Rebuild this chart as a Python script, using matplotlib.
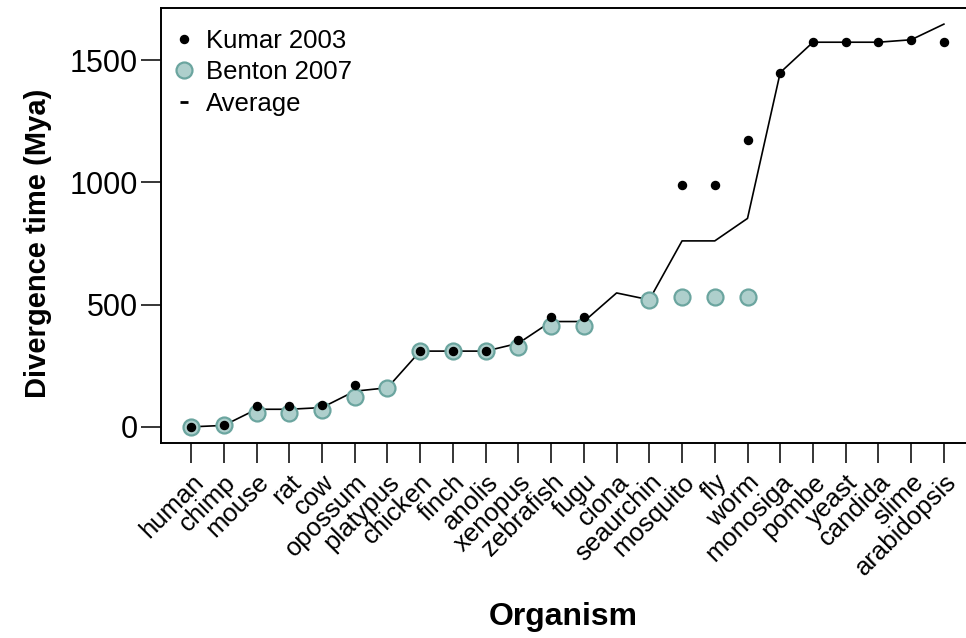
import numpy as np
import matplotlib
matplotlib.use('Agg')
import matplotlib.pyplot as plt
from matplotlib.lines import Line2D

plt.rcParams['font.family'] = ['Liberation Sans', 'DejaVu Sans']

# Organisms in order of divergence from human
organisms = ['human', 'chimp', 'mouse', 'rat', 'cow', 'opossum', 'platypus',
             'chicken', 'finch', 'anolis', 'xenopus', 'zebrafish', 'fugu',
             'ciona', 'seaurchin', 'mosquito', 'fly', 'worm', 'monosiga',
             'pombe', 'yeast', 'candida', 'slime', 'arabidopsis']

# Divergence times (Mya), nan where a source has no estimate
kumar = [0, 6, 86, 86, 89, 170, np.nan, 310, 310, 310, 355, 448, 448,
         np.nan, np.nan, 990, 990, 1175, 1450, 1574, 1574, 1574, 1584, 1574]
benton = [0, 6, 58, 58, 69, 121, 160, 310, 310, 310, 328, 413, 413,
          np.nan, 518, 532, 532, 532, np.nan, np.nan, np.nan, np.nan, np.nan, np.nan]
average = [0, 6, 72, 72, 79, 146, 160, 310, 310, 310, 342, 431, 431,
           548, 520, 761, 761, 853, 1450, 1574, 1574, 1574, 1584, 1648]

x = np.arange(1, len(organisms) + 1)

fig = plt.figure(figsize=(9.66, 6.38), dpi=100)
ax = fig.add_axes([161/966, 1 - 443/638, (974 - 161)/966, (443 - 8)/638])

teal_fill = '#aecfcc'
teal_edge = '#6ba59f'

ax.plot(x, average, color='black', lw=1.2, zorder=1)
ax.plot(x, benton, ls='none', marker='o', ms=11.5, mfc=teal_fill, mec=teal_edge,
        mew=1.6, zorder=2)
ax.plot(x, kumar, ls='none', marker='o', ms=5.8, color='black', zorder=3)

ax.set_xlim(0.08, 24.92)
ax.set_ylim(-66, 1714)
ax.set_yticks([0, 500, 1000, 1500])
ax.set_xticks(x)
ax.set_xticklabels(organisms, rotation=45, ha='right', va='top',
                   rotation_mode='anchor', fontsize=18.5)
ax.tick_params(axis='y', labelsize=22, length=14.5, width=1.1, pad=2)
ax.tick_params(axis='x', length=14.5, width=1.1, pad=5)

for s in ax.spines.values():
    s.set_linewidth(1.4)

# y label sits a bit above the axes centre
ax.set_ylabel('Divergence time (Mya)', fontsize=21, fontweight='bold')
ax.yaxis.set_label_coords(-0.134, 0.46)
fig.text(563/966, 1 - 617/638, 'Organism', fontsize=23, fontweight='bold',
         ha='center', va='center')

handles = [
    Line2D([], [], ls='none', marker='o', ms=5.8, color='black'),
    Line2D([], [], ls='none', marker='o', ms=11.5, mfc=teal_fill, mec=teal_edge, mew=1.6),
    Line2D([], [], ls='none', marker='_', ms=6, mew=2, color='black'),
]
ax.legend(handles, ['Kumar 2003', 'Benton 2007', 'Average'], loc='upper left',
          frameon=False, fontsize=18.5, handlelength=1.0, handletextpad=0.35,
          labelspacing=0.28, borderaxespad=0.0, bbox_to_anchor=(0.0, 0.975))

fig.savefig('out.png', dpi=100)
